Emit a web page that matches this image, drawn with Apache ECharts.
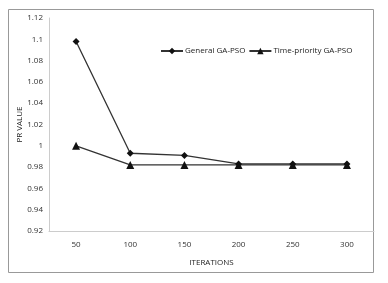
<!DOCTYPE html>
<html><head><meta charset="utf-8">
<script src="https://cdn.jsdelivr.net/npm/echarts@6/dist/echarts.min.js"></script>
<style>html,body{margin:0;padding:0;background:#fff}#c{width:388px;height:283px}</style>
</head><body><div id="c"></div>
<script>
const categories = ['50','100','150','200','250','300'];
const generalGAPSO = [1.098, 0.993, 0.991, 0.983, 0.983, 0.983];
const timePriorityGAPSO = [1.0, 0.982, 0.982, 0.982, 0.982, 0.982];
const seriesNames = ['General GA-PSO', 'Time-priority GA-PSO'];
const font = '"Open Sans", "Liberation Sans", sans-serif';
const chart = echarts.init(document.getElementById('c'));
chart.setOption({
  animation: false,
  graphic: [{type:'rect', shape:{x:8.5,y:9.5,width:365,height:263}, style:{fill:'none', stroke:'#999', lineWidth:1}, silent:true}],
  grid: {left: 49, right: 14, top: 18, bottom: 52},
  legend: {
    top: 42, left: 155, itemGap: 3, itemWidth: 22, itemHeight: 8,
    textStyle: {fontFamily: font, fontSize: 8, color: '#222', padding:[0,0,0,-3]},
    data: seriesNames
  },
  xAxis: {
    type: 'category', data: categories, boundaryGap: true,
    name: 'ITERATIONS', nameLocation: 'middle', nameGap: 28, nameMoveOverlap: false,
    nameTextStyle: {fontFamily: font, fontSize: 8, color: '#222'},
    axisLine: {lineStyle: {color: '#ccc'}}, axisTick: {show: false},
    axisLabel: {fontFamily: font, fontSize: 8, color: '#333', margin: 10}
  },
  yAxis: {
    type: 'value', min: 0.92, max: 1.12, interval: 0.02,
    name: 'PR VALUE', nameLocation: 'middle', nameGap: 25, nameMoveOverlap: false,
    nameTextStyle: {fontFamily: font, fontSize: 8, color: '#222'},
    axisLine: {show: true, lineStyle: {color: '#ccc'}}, axisTick: {show: false},
    splitLine: {show: false},
    axisLabel: {fontFamily: font, fontSize: 8, color: '#333', margin: 6,
      formatter: v => String(parseFloat(v.toFixed(2)))}
  },
  series: [
    {name: seriesNames[0], type: 'line', data: generalGAPSO, symbol: 'diamond', symbolSize: 7,
     lineStyle: {color: '#333', width: 1.3}, itemStyle: {color: '#111'}},
    {name: seriesNames[1], type: 'line', data: timePriorityGAPSO, symbol: 'triangle', symbolSize: 8,
     lineStyle: {color: '#333', width: 1.3}, itemStyle: {color: '#111'}}
  ]
});
</script></body></html>
